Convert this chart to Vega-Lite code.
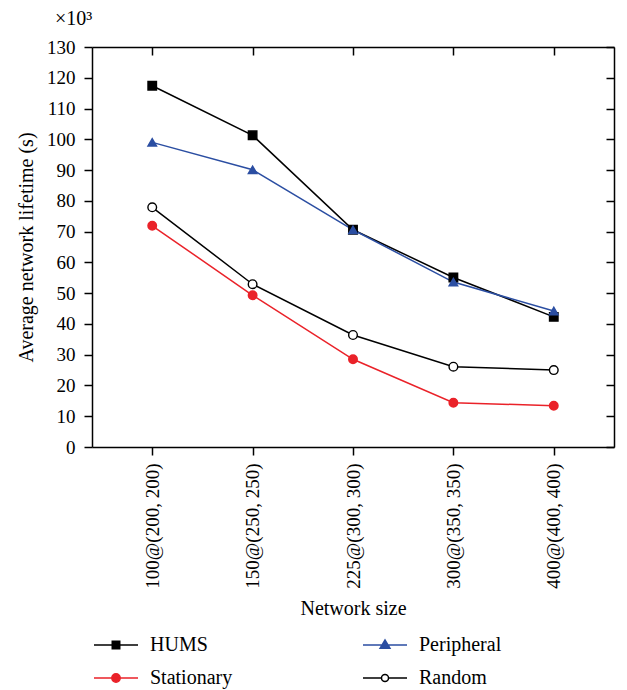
{
  "$schema": "https://vega.github.io/schema/vega-lite/v6.json",
  "width": 522,
  "height": 400,
  "autosize": "none",
  "padding": {"left": 92, "top": 47, "right": 13, "bottom": 243},
  "background": "white",
  "config": {
    "view": {"stroke": null},
    "font": "Liberation Serif",
    "axis": {"labelFont": "Liberation Serif", "titleFont": "Liberation Serif", "labelColor": "black", "titleColor": "black", "domainColor": "black", "tickColor": "black", "domainWidth": 1.5, "tickWidth": 1.5, "grid": false, "titleFontWeight": "normal", "labelFontSize": 19, "titleFontSize": 20},
    "legend": {"labelFont": "Liberation Serif", "titleFont": "Liberation Serif", "labelFontSize": 20, "labelColor": "black"}
  },
  "title": {"text": "×10³", "anchor": "start", "frame": "group", "offset": 9, "dx": -37, "font": "Liberation Serif", "fontSize": 20, "fontWeight": "normal", "color": "black"},
  "data": {"values": [
    {"size": "100@(200, 200)", "series": "HUMS", "value": 117.4},
    {"size": "150@(250, 250)", "series": "HUMS", "value": 101.3},
    {"size": "225@(300, 300)", "series": "HUMS", "value": 70.6},
    {"size": "300@(350, 350)", "series": "HUMS", "value": 55.1},
    {"size": "400@(400, 400)", "series": "HUMS", "value": 42.3},
    {"size": "100@(200, 200)", "series": "Peripheral", "value": 99.0},
    {"size": "150@(250, 250)", "series": "Peripheral", "value": 90.1},
    {"size": "225@(300, 300)", "series": "Peripheral", "value": 70.6},
    {"size": "300@(350, 350)", "series": "Peripheral", "value": 53.6},
    {"size": "400@(400, 400)", "series": "Peripheral", "value": 44.2},
    {"size": "100@(200, 200)", "series": "Stationary", "value": 71.9},
    {"size": "150@(250, 250)", "series": "Stationary", "value": 49.3},
    {"size": "225@(300, 300)", "series": "Stationary", "value": 28.5},
    {"size": "300@(350, 350)", "series": "Stationary", "value": 14.4},
    {"size": "400@(400, 400)", "series": "Stationary", "value": 13.4},
    {"size": "100@(200, 200)", "series": "Random", "value": 77.9},
    {"size": "150@(250, 250)", "series": "Random", "value": 52.9},
    {"size": "225@(300, 300)", "series": "Random", "value": 36.4},
    {"size": "300@(350, 350)", "series": "Random", "value": 26.1},
    {"size": "400@(400, 400)", "series": "Random", "value": 25.0}
  ]},
  "layer": [
    {
      "mark": {"type": "line", "strokeWidth": 1.5},
      "encoding": {
        "x": {"field": "size", "type": "ordinal", "sort": null, "scale": {"type": "point", "padding": 0.6},
          "axis": {"orient": "bottom", "title": "Network size", "labelAngle": -90, "tickSize": 8, "labelPadding": 8, "titlePadding": 10, "titleFont": "Liberation Serif"}},
        "y": {"field": "value", "type": "quantitative", "scale": {"domain": [0, 130], "nice": false, "zero": true},
          "axis": {"orient": "left", "title": "Average network lifetime (s)", "values": [0,10,20,30,40,50,60,70,80,90,100,110,120,130], "tickSize": 8, "labelPadding": 9, "titlePadding": 10}},
        "stroke": {"field": "series", "type": "nominal", "legend": null,
          "scale": {"domain": ["HUMS", "Stationary", "Peripheral", "Random"], "range": ["black", "#ea2229", "#2b4ea2", "black"]}}
      }
    },
    {
      "mark": {"type": "point", "filled": false, "strokeWidth": 1.4, "opacity": 1},
      "encoding": {
        "x": {"field": "size", "type": "ordinal", "sort": null,
          "axis": {"orient": "top", "title": null, "labels": false, "tickSize": -8, "domain": true}},
        "y": {"field": "value", "type": "quantitative",
          "axis": {"orient": "right", "title": null, "labels": false, "tickSize": -8, "values": [0,10,20,30,40,50,60,70,80,90,100,110,120,130]}},
        "shape": {"field": "series", "type": "nominal", "legend": null,
          "scale": {"domain": ["HUMS", "Stationary", "Peripheral", "Random"], "range": ["square", "circle", "triangle-up", "circle"]}},
        "size": {"field": "series", "type": "nominal", "legend": null,
          "scale": {"domain": ["HUMS", "Stationary", "Peripheral", "Random"], "range": [72, 75, 90, 70]}},
        "stroke": {"field": "series", "type": "nominal", "legend": null,
          "scale": {"domain": ["HUMS", "Stationary", "Peripheral", "Random"], "range": ["black", "#ea2229", "#2b4ea2", "black"]}},
        "fill": {"field": "series", "type": "nominal", "legend": null,
          "scale": {"domain": ["HUMS", "Stationary", "Peripheral", "Random"], "range": ["black", "#ea2229", "#2b4ea2", "white"]}}
      }
    },
    {
      "transform": [{"filter": "false"}],
      "mark": {"type": "point", "filled": true, "strokeWidth": 1.5, "opacity": 1},
      "encoding": {
        "shape": {"field": "series", "type": "nominal",
          "scale": {"domain": ["HUMS", "Peripheral", "Stationary", "Random"],
            "range": ["M-2,0H2M-0.34,-0.34H0.34V0.34H-0.34Z", "M-2,0H2M-0.45,0.3L0,-0.45L0.45,0.3Z", "M-2,0H2M-0.38,0A0.38,0.38 0 1,0 0.38,0A0.38,0.38 0 1,0 -0.38,0Z", "M-2,0H-0.32M0.32,0H2M-0.32,0A0.32,0.32 0 1,0 0.32,0A0.32,0.32 0 1,0 -0.32,0Z"]},
          "legend": {
            "title": null, "orient": "none", "legendX": 12, "legendY": 586, "columns": 2, "direction": "horizontal",
            "padding": 0, "columnPadding": 127, "rowPadding": 11, "labelOffset": 22,
            "symbolSize": 484, "symbolStrokeWidth": 1.5, "labelFont": "Liberation Serif", "labelFontSize": 20, "labelColor": "black", "labelLimit": 0}},
        "fill": {"field": "series", "type": "nominal",
          "scale": {"domain": ["HUMS", "Peripheral", "Stationary", "Random"], "range": ["black", "#2b4ea2", "#ea2229", "white"]}},
        "stroke": {"field": "series", "type": "nominal",
          "scale": {"domain": ["HUMS", "Peripheral", "Stationary", "Random"], "range": ["black", "#2b4ea2", "#ea2229", "black"]}}
      }
    }
  ],
  "resolve": {
    "axis": {"x": "independent", "y": "independent"},
    "scale": {"shape": "independent", "fill": "independent", "stroke": "independent", "size": "independent"}
  }
}
